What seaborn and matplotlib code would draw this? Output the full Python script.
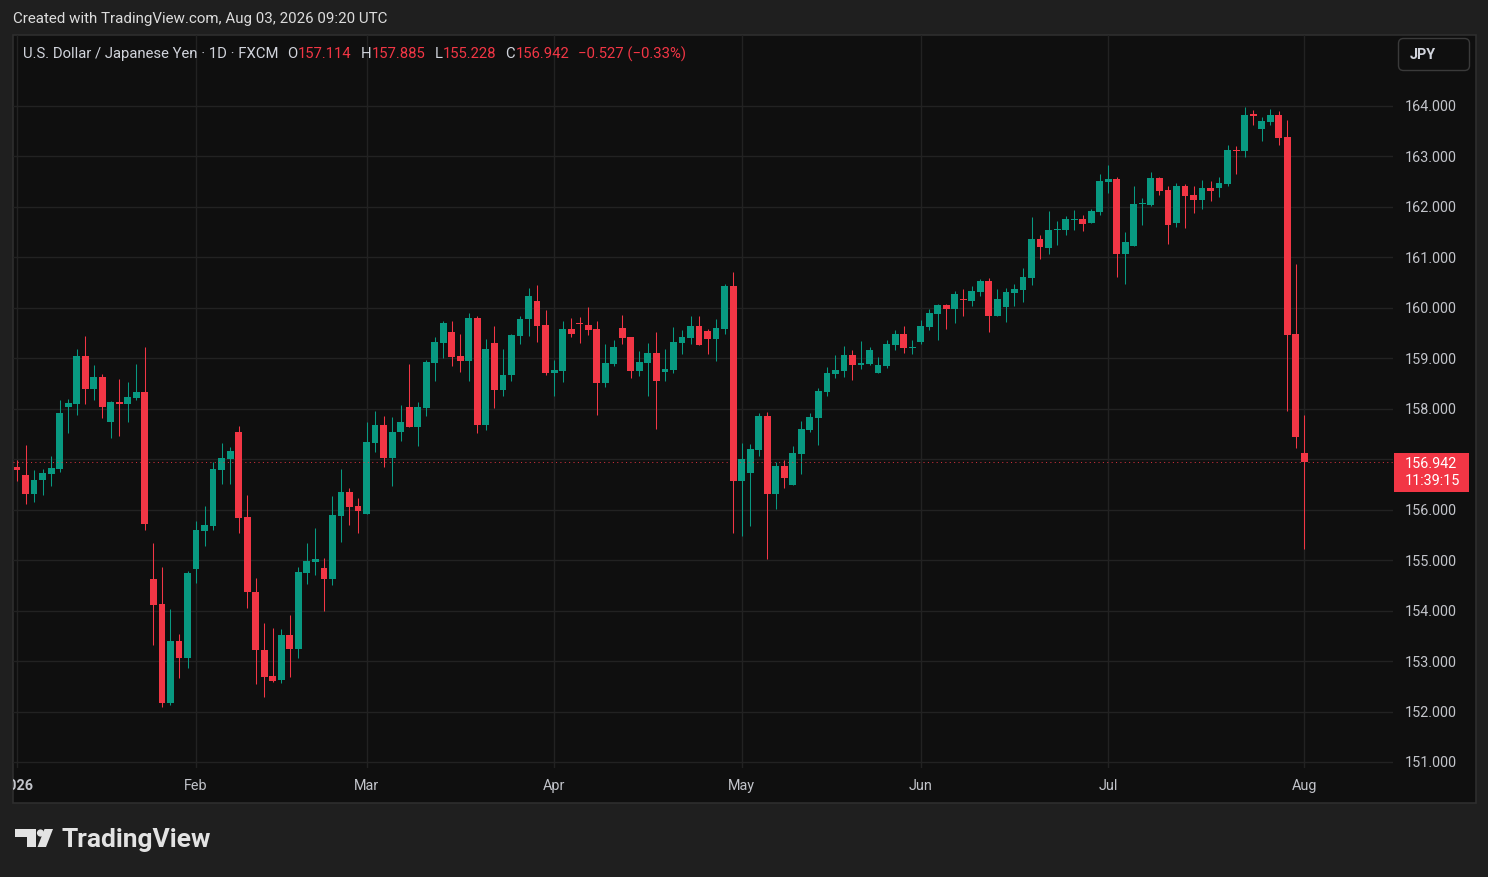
import matplotlib
matplotlib.use("Agg")
import matplotlib.pyplot as plt
import matplotlib.patches as mpatches
import numpy as np
import pandas as pd
import seaborn as sns

# daily candles, USD/JPY (FXCM), 2 Jan 2026 .. 3 Aug 2026 (weekdays)
dates = pd.bdate_range("2026-01-02", "2026-08-03")

opens = [
    156.85, 156.69, 156.32, 156.58, 156.71, 156.81, 158.04, 158.10, 159.05, 158.40,
    158.63, 157.74, 158.13, 158.10, 158.21, 158.33, 154.63, 154.13, 152.16, 153.40,
    153.07,
    154.83, 155.58, 155.68, 156.79, 157.00, 157.54, 155.85, 154.37, 153.22, 152.70,
    152.63, 153.52, 153.23, 154.75, 154.97, 154.84, 154.63, 155.88, 156.35, 156.07,
    155.92, 157.33, 157.68, 157.03, 157.53, 158.04, 157.63, 158.02, 158.91, 159.30,
    159.52, 159.05, 158.95, 159.80, 157.67, 159.30, 158.38, 158.66, 159.45, 159.77,
    160.14, 159.66,
    158.70, 158.75, 159.58, 159.69, 159.66, 159.58, 158.52, 158.89, 159.60, 159.42,
    158.75, 158.91, 159.10, 158.72, 158.77, 159.30, 159.40, 159.64, 159.54, 159.38,
    159.58, 160.43,
    156.57, 156.73, 157.18, 157.86, 156.31, 156.87, 156.49, 157.10, 157.58, 157.82,
    158.33, 158.69, 158.75, 159.07, 158.87, 158.89, 158.71, 158.85, 159.26, 159.48,
    159.20,
    159.32, 159.62, 159.88, 160.06, 159.98, 160.18, 160.14, 160.31, 160.53, 159.84,
    160.02, 160.29, 160.35, 160.59, 161.36, 161.19, 161.54, 161.54, 161.74, 161.76,
    161.68, 161.90,
    162.49, 162.55, 161.07, 161.23, 162.06, 162.04, 162.57, 162.34, 161.68, 162.41,
    162.24, 162.14, 162.38, 162.38, 162.45, 163.13, 163.11, 163.82, 163.54, 163.68,
    163.82, 163.39, 159.48,
    157.114,
]
highs = [
    156.98, 157.28, 156.79, 156.81, 157.06, 158.17, 158.19, 159.18, 159.44, 158.87,
    158.69, 158.16, 158.58, 158.53, 158.89, 159.22, 155.34, 154.86, 154.03, 153.54,
    154.78,
    155.78, 156.07, 156.95, 157.32, 157.24, 157.66, 156.29, 154.65, 153.76, 153.66,
    153.64, 153.91, 154.86, 155.34, 155.64, 155.04, 156.27, 156.81, 156.43, 156.23,
    157.74, 157.96, 157.86, 157.84, 158.08, 158.89, 158.13, 158.97, 159.42, 159.74,
    159.74, 159.48, 159.90, 159.84, 159.38, 159.64, 159.18, 159.48, 159.84, 160.39,
    160.45, 159.96,
    158.96, 159.74, 159.80, 159.82, 160.02, 159.74, 159.28, 159.36, 159.86, 159.42,
    159.14, 159.30, 159.52, 159.18, 159.62, 159.56, 159.84, 159.84, 159.58, 159.78,
    160.47, 160.71,
    157.32, 157.30, 157.92, 157.94, 156.94, 156.98, 157.26, 157.76, 157.92, 158.41,
    158.83, 159.07, 159.24, 159.16, 159.34, 159.22, 159.03, 159.36, 159.56, 159.64,
    159.36,
    159.76, 159.98, 160.08, 160.08, 160.33, 160.37, 160.43, 160.57, 160.59, 160.37,
    160.39, 160.47, 160.79, 161.80, 161.44, 161.92, 161.72, 161.82, 161.94, 161.84,
    161.96, 162.65,
    162.83, 162.59, 161.50, 162.41, 162.18, 162.69, 162.59, 162.41, 162.47, 162.45,
    162.41, 162.53, 162.51, 162.59, 163.23, 163.21, 163.98, 163.92, 163.78, 163.94,
    163.90, 163.72, 160.87,
    157.885,
]
lows = [
    156.56, 156.12, 156.16, 156.30, 156.46, 156.75, 157.51, 157.88, 158.10, 158.18,
    157.82, 157.43, 157.46, 157.74, 158.17, 155.60, 153.31, 152.09, 152.13, 152.67,
    152.87,
    154.55, 155.28, 155.60, 156.51, 156.51, 155.53, 154.06, 152.55, 152.28, 152.59,
    152.57, 152.69, 153.07, 154.53, 154.71, 154.00, 154.51, 155.35, 155.70, 155.54,
    155.92, 157.15, 156.85, 156.46, 157.37, 157.63, 157.27, 157.86, 158.56, 159.01,
    158.85, 158.72, 158.56, 157.51, 157.58, 158.02, 158.26, 158.56, 159.29, 159.45,
    159.33, 158.66,
    158.26, 158.54, 159.43, 159.31, 159.47, 157.88, 158.44, 158.85, 159.29, 158.60,
    158.64, 158.26, 157.59, 158.56, 158.71, 159.09, 159.28, 159.26, 159.09, 158.95,
    159.48, 155.54,
    155.48, 155.68, 157.06, 155.02, 156.01, 156.43, 156.49, 156.71, 157.54, 157.28,
    158.25, 158.61, 158.63, 158.57, 158.79, 158.87, 158.71, 158.81, 159.16, 159.10,
    159.08,
    159.28, 159.56, 159.36, 159.58, 159.70, 159.84, 160.04, 160.24, 159.52, 159.84,
    159.72, 160.04, 160.12, 160.45, 160.97, 161.07, 161.24, 161.44, 161.54, 161.52,
    161.68, 161.84,
    162.27, 160.61, 160.47, 161.23, 161.64, 162.02, 162.24, 161.27, 161.60, 161.58,
    161.88, 161.96, 162.12, 162.20, 162.41, 162.65, 162.99, 163.62, 163.31, 163.62,
    163.23, 157.96, 157.22,
    155.228,
]
closes = [
    156.79, 156.32, 156.59, 156.73, 156.83, 157.92, 158.11, 159.05, 158.40, 158.63,
    158.04, 158.13, 158.10, 158.23, 158.33, 155.72, 154.11, 152.16, 153.40, 153.07,
    154.75,
    155.60, 155.70, 156.81, 157.02, 157.16, 155.84, 154.36, 153.21, 152.69, 152.61,
    153.52, 153.23, 154.77, 154.98, 155.02, 154.63, 155.90, 156.35, 156.06, 155.98,
    157.34, 157.68, 157.03, 157.54, 157.74, 157.63, 158.04, 158.93, 159.32, 159.70,
    159.03, 158.95, 159.80, 157.67, 159.18, 158.38, 158.67, 159.46, 159.78, 160.23,
    159.65, 158.70,
    158.77, 159.58, 159.49, 159.67, 159.57, 158.52, 158.91, 159.22, 159.41, 158.75,
    158.93, 159.10, 158.56, 158.79, 159.32, 159.42, 159.64, 159.26, 159.38, 159.60,
    160.43, 156.57,
    157.00, 157.20, 157.86, 156.31, 156.87, 156.63, 157.12, 157.60, 157.84, 158.35,
    158.71, 158.77, 159.07, 158.87, 158.91, 159.16, 158.87, 159.28, 159.48, 159.20,
    159.22,
    159.64, 159.90, 160.06, 159.98, 160.27, 160.16, 160.33, 160.53, 159.84, 160.18,
    160.31, 160.37, 160.61, 161.36, 161.21, 161.54, 161.56, 161.76, 161.76, 161.66,
    161.92, 162.51,
    162.55, 161.07, 161.30, 162.06, 162.08, 162.57, 162.32, 161.64, 162.41, 162.22,
    162.14, 162.38, 162.32, 162.47, 163.13, 163.11, 163.82, 163.81, 163.70, 163.82,
    163.37, 159.46, 157.44,
    156.942,
]

month_labels = ["2026", "Feb", "Mar", "Apr", "May", "Jun", "Jul", "Aug"]
price_ticks = list(range(151, 165))
last_price = 156.942
countdown = "11:39:15"

W, H = 1488, 877
UP = "#089981"
DOWN = "#f23645"
TXT = "#d1d4dc"
AXT = "#c2c4ca"

sns.set_theme(style="dark", rc={"axes.facecolor": "#0f0f0f", "figure.facecolor": "#1f1f1f"})
plt.rcParams["font.family"] = ["Roboto", "DejaVu Sans"]

df = pd.DataFrame({"date": dates, "open": opens, "high": highs,
                   "low": lows, "close": closes})
df["i"] = np.arange(len(df))
df["up"] = df["close"] >= df["open"]
colors = np.where(df["up"], UP, DOWN)

fig = plt.figure(figsize=(W / 100, H / 100), dpi=100, facecolor="#1f1f1f")


def fx(px):
    return px / W


def fy(py):
    return 1 - py / H


# panel background
bg = fig.add_axes([0, 0, 1, 1], zorder=0)
bg.set_xlim(0, W)
bg.set_ylim(H, 0)
bg.axis("off")
bg.add_patch(mpatches.Rectangle((12.5, 34.5), 1463, 768, facecolor="#0f0f0f",
                                edgecolor="#2e2e2e", lw=1.2))

# main price axes
ax = fig.add_axes([fx(13), fy(768), fx(1393) - fx(13), fy(35) - fy(768)], zorder=1)
ax.set_facecolor("none")

ax.vlines(df["i"], df["low"], df["high"], colors=colors, lw=0.75, zorder=3)
body_lo = np.minimum(df["open"], df["close"])
body_h = np.maximum((df["close"] - df["open"]).abs(), 0.022)
ax.bar(df["i"], body_h, bottom=body_lo, width=0.8, color=colors, linewidth=0, zorder=4)

ax.axhline(last_price, color=DOWN, lw=0.75, ls=(0, (1, 3.2)), alpha=0.85, zorder=5)

ax.set_xlim(-0.469, 161.4)
ax.set_ylim(150.881, 165.407)

month_idx = [int(np.argmax(df["date"].dt.month.values == m)) for m in range(1, 9)]
ax.set_xticks(month_idx)
xl = ax.set_xticklabels(month_labels)
ax.set_yticks(price_ticks)
# the last-price tag covers the 157 level, so that label stays empty
yl = ax.set_yticklabels(["" if abs(p - last_price) < 0.3 else f"{p:.3f}"
                         for p in price_ticks])
ax.yaxis.tick_right()
ax.tick_params(axis="y", length=0, pad=8.6, labelsize=10.4, labelcolor=AXT)
ax.tick_params(axis="x", length=0, pad=7.6, labelsize=10.4, labelcolor=AXT)
ax.grid(True, color="#222222", lw=1)
for s in ax.spines.values():
    s.set_visible(False)

# clip axis labels to the panel like the original
clip_x = mpatches.Rectangle((13, 0), W, H, transform=bg.transData)
xl[0].set_fontweight("bold")
xl[0].set_clip_path(clip_x)
clip_y = mpatches.Rectangle((0, 35), W, 732, transform=bg.transData)
for t in yl:
    t.set_clip_path(clip_y)

# overlay texts
fg = fig.add_axes([0, 0, 1, 1], zorder=3)
fg.set_xlim(0, W)
fg.set_ylim(H, 0)
fg.axis("off")
fg.patch.set_alpha(0)

fg.text(13, 19.5, "Created with TradingView.com, Aug 03, 2026 09:20 UTC",
        color="#dcdcdc", fontsize=10.9, va="center")

header = [
    ("U.S. Dollar / Japanese Yen · 1D · FXCM", TXT, 0),
    ("O", TXT, 6.5), ("157.114", DOWN, 0.3),
    ("H", TXT, 6.5), ("157.885", DOWN, 0.3),
    ("L", TXT, 6.5), ("155.228", DOWN, 0.3),
    ("C", TXT, 6.5), ("156.942", DOWN, 0.3),
    ("\u22120.527 (\u22120.33%)", DOWN, 6.5),
]
t = fg.text(23, 54, header[0][0], color=header[0][1], fontsize=10.7, va="center")
for s, c, gap in header[1:]:
    t = fg.annotate(s, xy=(1, 0.5), xycoords=t, xytext=(gap, 0),
                    textcoords="offset points", va="center", color=c, fontsize=10.7)

# currency button
fg.add_patch(mpatches.FancyBboxPatch((1398.5, 38.5), 71, 32,
                                     boxstyle="round,pad=0,rounding_size=5",
                                     facecolor="#0f0f0f", edgecolor="#3a3a3a", lw=1))
fg.text(1410, 55, "JPY", color=TXT, fontsize=10.4, va="center", fontweight="bold")

# last price tag
fg.add_patch(mpatches.Rectangle((1394, 452.5), 75, 39, facecolor=DOWN, edgecolor="none"))
fg.text(1405, 472.5, f"{last_price:.3f}\n{countdown}", color="white", fontsize=10.4,
        va="center", linespacing=1.3)

# TradingView logo
logo_c = "#e3e3e3"
fg.add_patch(mpatches.Polygon([(15, 829), (36, 829), (36, 847), (26.5, 847),
                               (26.5, 837), (15, 837)], closed=True,
                              facecolor=logo_c, edgecolor="none"))
fg.add_patch(mpatches.Circle((40.5, 833), 3.6, facecolor=logo_c, edgecolor="none"))
fg.add_patch(mpatches.Polygon([(44.5, 829), (53, 829), (46, 847), (37.5, 847)],
                              closed=True, facecolor=logo_c, edgecolor="none"))
fg.text(61.5, 839.5, "TradingView", color=logo_c, fontsize=19, va="center",
        fontweight="bold")

fig.savefig("out.png", dpi=100, facecolor=fig.get_facecolor())
